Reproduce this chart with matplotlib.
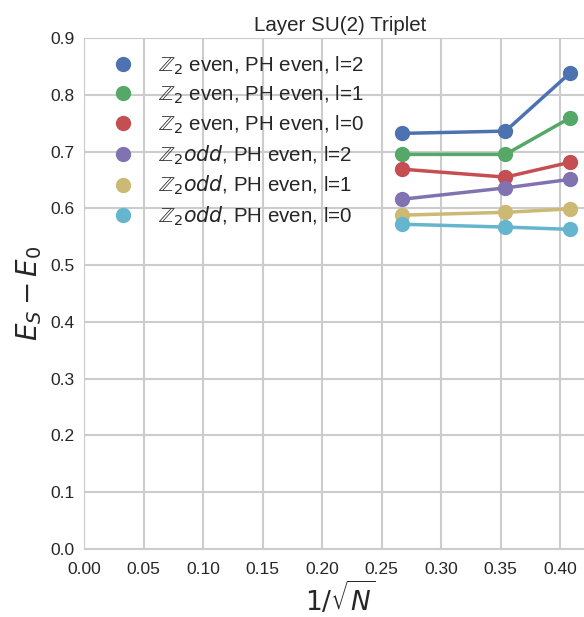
import matplotlib
matplotlib.use("Agg")
import matplotlib.pyplot as plt
import seaborn as sns
import numpy as np

sns.set_style("whitegrid")
plt.rcParams['font.family'] = ['Liberation Sans', 'DejaVu Sans']
plt.rcParams['mathtext.fontset'] = 'dejavusans'

x = [0.267, 0.354, 0.408]
labels = [r"$\mathbb{Z}_2$ even, PH even, l=2",
          r"$\mathbb{Z}_2$ even, PH even, l=1",
          r"$\mathbb{Z}_2$ even, PH even, l=0",
          r"$\mathbb{Z}_2 odd$, PH even, l=2",
          r"$\mathbb{Z}_2 odd$, PH even, l=1",
          r"$\mathbb{Z}_2 odd$, PH even, l=0"]
y_even_l2 = [0.732, 0.736, 0.838]
y_even_l1 = [0.695, 0.695, 0.759]
y_even_l0 = [0.669, 0.655, 0.681]
y_odd_l2 = [0.616, 0.636, 0.651]
y_odd_l1 = [0.588, 0.593, 0.599]
y_odd_l0 = [0.572, 0.567, 0.563]
series = [y_even_l2, y_even_l1, y_even_l0, y_odd_l2, y_odd_l1, y_odd_l0]
colors = ["#4C72B0", "#55A868", "#C44E52", "#8172B2", "#CCB974", "#64B5CD"]

fig = plt.figure(figsize=(5.84, 6.17), dpi=100)
ax = fig.add_axes([0.1438, 0.1102, 0.8767, 0.8282])
for ys, c, lab in zip(series, colors, labels):
    ax.plot(x, ys, '-o', color=c, lw=2.5, ms=10, label=lab)

ax.set_xlim(0, 0.43)
ax.set_ylim(0, 0.9)
ax.set_xticks(np.arange(0, 0.41, 0.05))
ax.set_yticks(np.arange(0, 0.91, 0.1))
ax.set_xticklabels([f"{v:.2f}" for v in np.arange(0, 0.41, 0.05)])
ax.set_yticklabels([f"{v:.1f}" for v in np.arange(0, 0.91, 0.1)])
ax.tick_params(labelsize=12.5, colors="#262626")
ax.tick_params(axis='x', pad=5.5)
ax.set_title("Layer SU(2) Triplet", fontsize=14.8, color="#262626", pad=5)
ax.set_xlabel(r"$1/\sqrt{N}$", fontsize=19, color="#262626", labelpad=2)
ax.set_ylabel(r"$E_S-E_0$", fontsize=20, color="#262626")
ax.grid(True, color="#cccccc", lw=1.5)
for s in ax.spines.values():
    s.set_color("#cccccc")
leg = ax.legend(loc="upper left", frameon=False, fontsize=14.8, numpoints=1,
                handlelength=1.0, handletextpad=1.2, borderaxespad=0.3,
                labelspacing=0.345, bbox_to_anchor=(0.028, 0.997))
for h in leg.legend_handles:
    h.set_linestyle('')
for t in leg.get_texts():
    t.set_color("#262626")
fig.savefig("out.png", dpi=100)
